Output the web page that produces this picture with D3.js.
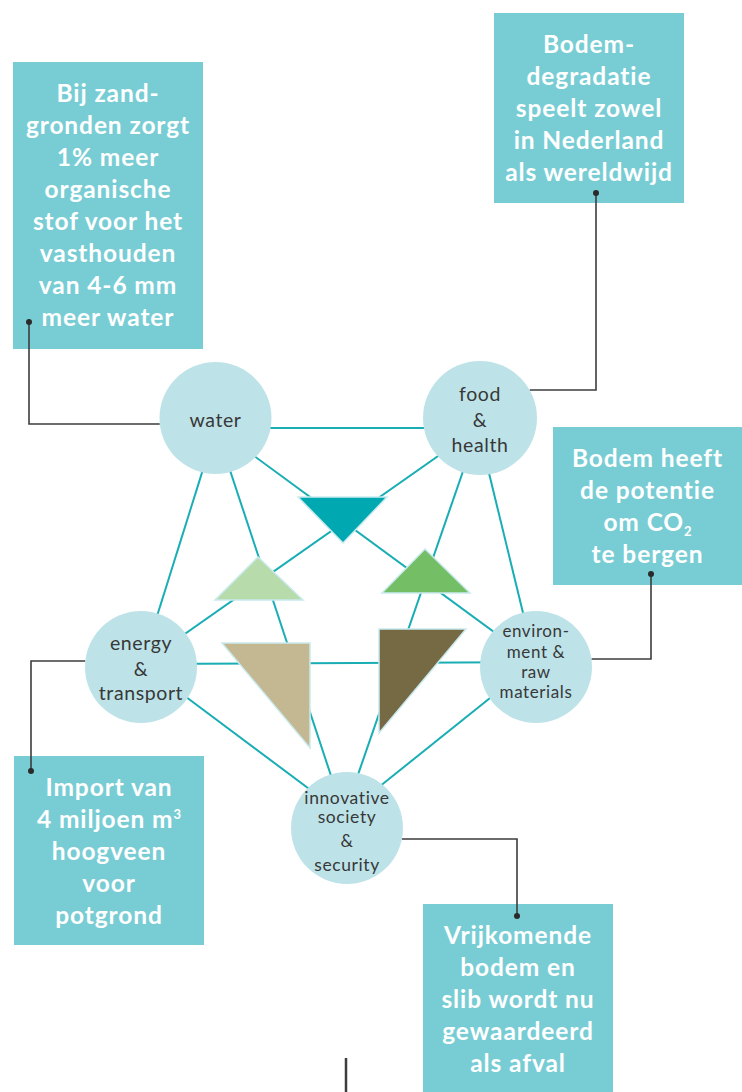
<!DOCTYPE html>
<html>
<head>
<meta charset="utf-8">
<script src="https://cdn.jsdelivr.net/npm/d3@7/dist/d3.min.js"></script>
<style>
  html, body { margin: 0; padding: 0; background: #fff; }
  svg { display: block; }
</style>
</head>
<body>
<div class="container"></div>
<script>
let width = 742,
    height = 1092;

// the five themes
let nodeIds = ["water", "food", "energy", "environment", "innovative"];
let nodeLabels = [
    ["water"],
    ["food", "&", "health"],
    ["energy", "&", "transport"],
    ["environ-", "ment &", "raw", "materials"],
    ["innovative", "society", "&", "security"]
];

// every theme is linked with every other one
let links = [
    ["water", "food"], ["water", "energy"], ["water", "environment"], ["water", "innovative"],
    ["food", "energy"], ["food", "environment"], ["food", "innovative"],
    ["energy", "environment"], ["energy", "innovative"],
    ["environment", "innovative"]
];

let triangleColors = ["#00a9b1", "#b7dbab", "#74be65", "#c4b893", "#766a45"];

// callouts, "_2" = subscript, "^3" = superscript
let calloutTexts = [
    ["Bij zand-", "gronden zorgt", "1% meer", "organische", "stof voor het", "vasthouden", "van 4-6 mm", "meer water"],
    ["Bodem-", "degradatie", "speelt zowel", "in Nederland", "als wereldwijd"],
    ["Bodem heeft", "de potentie", "om CO_2", "te bergen"],
    ["Import van", "4 miljoen m^3", "hoogveen", "voor", "potgrond"],
    ["Vrijkomende", "bodem en", "slib wordt nu", "gewaardeerd", "als afval"]
];
let calloutNodes = ["water", "food", "environment", "energy", "innovative"];

// ---- layout (positions only) ----
let nodeLayout = {
    water:       {cx: 215.5, cy: 418, r: 56, size: 19.5, dy: [9],               ax: 216, ay: 428},
    food:        {cx: 480,   cy: 418, r: 57, size: 19.5, dy: [-17, 9, 34],      ax: 478, ay: 428},
    energy:      {cx: 141,   cy: 667, r: 56, size: 19.5, dy: [-17, 9, 33],      ax: 142, ay: 664},
    environment: {cx: 536,   cy: 667, r: 56, size: 17,   dy: [-30, -9, 11, 31], ax: 535, ay: 662},
    innovative:  {cx: 347,   cy: 828, r: 56, size: 17.5, dy: [-24, -5, 19, 43], ax: 344, ay: 815}
};

let triangleLayout = [
    [[298, 497], [387, 497], [343, 543]],
    [[215, 600], [303, 600], [258, 557]],
    [[382, 593], [470, 593], [425, 549]],
    [[222, 643], [310, 643], [310, 748]],
    [[379, 629], [466, 629], [379, 733]]
];

let calloutLayout = [
    {x: 13,  y: 62,  w: 190, h: 287, dot: [29, 322],  elbowY: 424, side: -1},
    {x: 494, y: 13,  w: 190, h: 190, dot: [596, 193], elbowY: 390, side: 1},
    {x: 553, y: 427, w: 189, h: 158, dot: [651, 574], elbowY: 659, side: 1},
    {x: 14,  y: 756, w: 190, h: 189, dot: [31, 771],  elbowY: 661, side: -1},
    {x: 423, y: 904, w: 190, h: 200, dot: [517, 916], elbowY: 839, side: 1}
];

let lineH = 32;

let svg = d3.select(".container")
    .append("svg")
    .attr("id", "svg")
    .attr("xmlns", "http://www.w3.org/2000/svg")
    .attr("width", width)
    .attr("height", height);

let nodes = nodeIds.map(function (id, i) {
    return Object.assign({id: id, label: nodeLabels[i]}, nodeLayout[id]);
});
let byId = {};
nodes.forEach(function (d) { byId[d.id] = d; });

// links, behind everything
svg.append("g").selectAll("line")
    .data(links)
    .enter().append("line")
    .attr("x1", function (d) { return byId[d[0]].ax; })
    .attr("y1", function (d) { return byId[d[0]].ay; })
    .attr("x2", function (d) { return byId[d[1]].ax; })
    .attr("y2", function (d) { return byId[d[1]].ay; })
    .attr("stroke", "#19adb4")
    .attr("stroke-width", 2);

// triangles
svg.append("g").selectAll("path")
    .data(triangleLayout)
    .enter().append("path")
    .attr("d", function (d) { return d3.line()(d) + "Z"; })
    .style("fill", function (d, i) { return triangleColors[i]; })
    .attr("stroke", "#c9eaee")
    .attr("stroke-width", 1.5)
    .attr("stroke-linejoin", "miter");

// callout boxes
let callouts = calloutTexts.map(function (t, i) {
    return Object.assign({lines: t, node: byId[calloutNodes[i]]}, calloutLayout[i]);
});

let cg = svg.append("g").selectAll("g")
    .data(callouts)
    .enter().append("g");

cg.append("rect")
    .attr("x", function (d) { return d.x; })
    .attr("y", function (d) { return d.y; })
    .attr("width", function (d) { return d.w; })
    .attr("height", function (d) { return d.h; })
    .style("fill", "#78cdd4");

cg.each(function (d) {
    let g = d3.select(this);
    d.lines.forEach(function (line, k) {
        let t = g.append("text")
            .attr("x", d.x + d.w / 2)
            .attr("y", d.y + 40 + k * lineH)
            .attr("text-anchor", "middle")
            .style("font-family", "Lato, 'Open Sans', sans-serif")
            .style("font-weight", 700)
            .style("font-size", "24.5px")
            .style("letter-spacing", "0.9px")
            .style("fill", "#ffffff");
        let m = line.match(/^(.*)([_^])(\d)$/);
        if (m) {
            t.append("tspan").text(m[1]);
            t.append("tspan")
                .attr("dy", m[2] === "_" ? 5 : -9)
                .style("font-size", "13px")
                .style("letter-spacing", "0px")
                .text(m[3]);
        } else {
            t.text(line);
        }
    });
});

// connectors from the callouts to the circles
cg.append("path")
    .attr("d", function (d) {
        let n = d.node;
        let dy = d.elbowY - n.cy;
        let ex = n.cx + d.side * Math.sqrt(n.r * n.r - dy * dy);
        return d3.line()([d.dot, [d.dot[0], d.elbowY], [ex, d.elbowY]]);
    })
    .attr("fill", "none")
    .attr("stroke", "#3d3d3d")
    .attr("stroke-width", 1.6);

cg.append("circle")
    .attr("cx", function (d) { return d.dot[0]; })
    .attr("cy", function (d) { return d.dot[1]; })
    .attr("r", 3)
    .style("fill", "#2a2a2a");

// theme circles
let ng = svg.append("g").selectAll("g")
    .data(nodes)
    .enter().append("g")
    .attr("transform", function (d) { return "translate(" + d.cx + "," + d.cy + ")"; });

ng.append("circle")
    .attr("r", function (d) { return d.r; })
    .style("fill", "#bde3e8");

ng.each(function (d) {
    let g = d3.select(this);
    d.label.forEach(function (l, k) {
        g.append("text")
            .attr("y", d.dy[k])
            .attr("text-anchor", "middle")
            .style("font-family", "Lato, 'Open Sans', sans-serif")
            .style("font-size", d.size + "px")
            .style("letter-spacing", "0.6px")
            .style("fill", "#383838")
            .text(l);
    });
});

// stub at the bottom
svg.append("line")
    .attr("x1", 346).attr("x2", 346)
    .attr("y1", 1058).attr("y2", height)
    .attr("stroke", "#3d3d3d")
    .attr("stroke-width", 2.5);
</script>
</body>
</html>
